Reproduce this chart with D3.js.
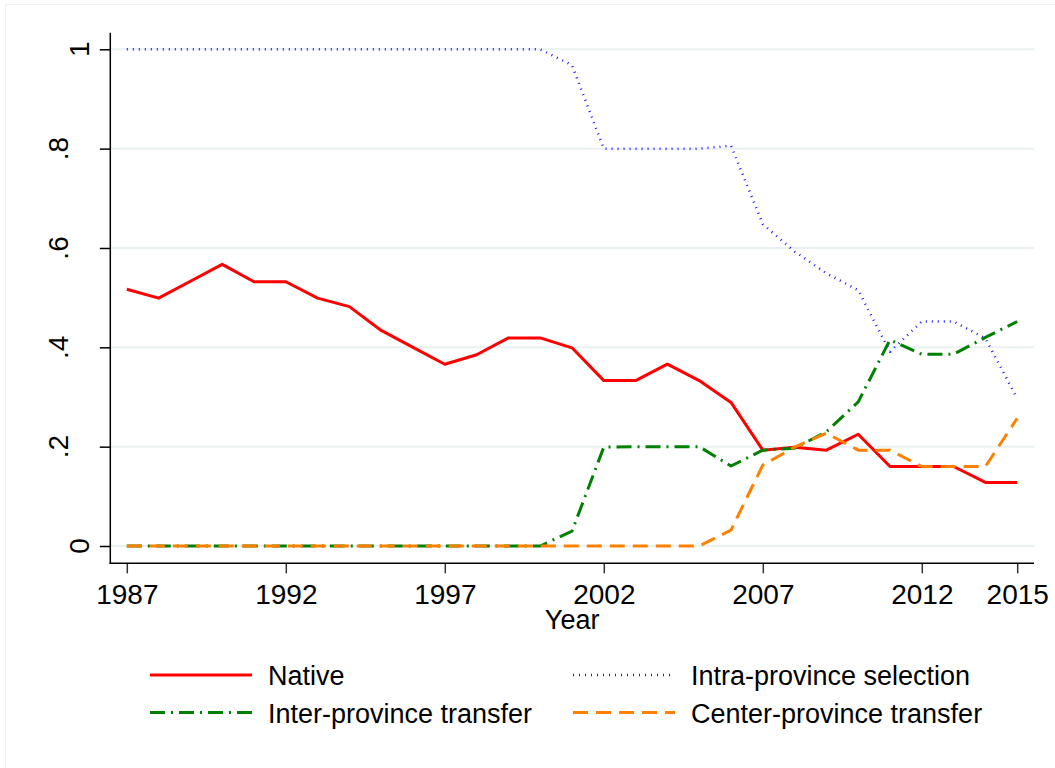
<!DOCTYPE html>
<html>
<head>
<meta charset="utf-8">
<script src="https://cdn.jsdelivr.net/npm/d3@7"></script>
<style>
  body { margin: 0; background: #fff; }
  text { font-family: "Liberation Sans", Arial, sans-serif; fill: #000; }
</style>
</head>
<body>
<div id="chart"></div>
<script>
// data
const years = d3.range(1987, 2016);
const native = [0.517, 0.499, 0.533, 0.567, 0.532, 0.532, 0.499, 0.482, 0.434, 0.400,
                0.366, 0.385, 0.419, 0.419, 0.399, 0.333, 0.333, 0.366, 0.333, 0.289,
                0.193, 0.199, 0.193, 0.225, 0.160, 0.160, 0.160, 0.128, 0.128];
const intra = [1, 1, 1, 1, 1, 1, 1, 1, 1, 1, 1, 1, 1, 1,
               0.968, 0.800, 0.800, 0.800, 0.800, 0.806, 0.648, 0.593, 0.549, 0.515,
               0.391, 0.452, 0.452, 0.418, 0.297];
const inter = [0, 0, 0, 0, 0, 0, 0, 0, 0, 0, 0, 0, 0, 0,
               0.030, 0.199, 0.200, 0.200, 0.200, 0.161, 0.193, 0.197, 0.230, 0.290,
               0.415, 0.386, 0.386, 0.420, 0.452];
const center = [0, 0, 0, 0, 0, 0, 0, 0, 0, 0, 0, 0, 0, 0, 0, 0, 0, 0, 0,
                0.032, 0.163, 0.199, 0.227, 0.193, 0.193, 0.160, 0.160, 0.160, 0.257];
const xTicks = [1987, 1992, 1997, 2002, 2007, 2012, 2015];
const yTicks = [0, 0.2, 0.4, 0.6, 0.8, 1];
const yTickLabels = ["0", ".2", ".4", ".6", ".8", "1"];

const series = [
  {name: "Native", values: native, color: "#ff0000", dash: null, width: 3},
  {name: "Intra-province selection", values: intra, color: "#1a1aff", dash: "1,5", width: 2.5},
  {name: "Inter-province transfer", values: inter, color: "#008000", dash: "15,6,2,6", width: 3},
  {name: "Center-province transfer", values: center, color: "#ff8000", dash: "15,8", width: 3}
];

const W = 1055, H = 768;
const svg = d3.select("#chart").append("svg")
    .attr("width", W)
    .attr("height", H);

// faint outer frame
svg.append("rect")
    .attr("x", 5.5).attr("y", 4.5)
    .attr("width", 1100).attr("height", 800)
    .attr("fill", "none")
    .attr("stroke", "#eef2f3");

const axisLeftX = 110.3, axisRightX = 1034, axisTopY = 32.7, axisBottomY = 563.3;

const x = d3.scaleLinear().domain([1987, 2015]).range([126.8, 1017.2]);
const y = d3.scaleLinear().domain([0, 1]).range([546, 49.3]);

// horizontal grid
svg.append("g")
    .selectAll("line")
    .data(yTicks)
    .enter().append("line")
    .attr("x1", axisLeftX).attr("x2", axisRightX)
    .attr("y1", d => y(d)).attr("y2", d => y(d))
    .attr("stroke", "#eaf1f2")
    .attr("stroke-width", 2);

// x axis
const xAxis = svg.append("g")
    .attr("transform", `translate(0,${axisBottomY})`)
    .call(d3.axisBottom(x).tickValues(xTicks).tickFormat(d3.format("d")).tickSize(10).tickPadding(11));
xAxis.select(".domain").remove();
xAxis.selectAll(".tick line").attr("stroke", "#333").attr("stroke-width", 1.5);
xAxis.selectAll(".tick text")
    .style("font-size", "28px")
    .style("font-family", "'Liberation Sans', Arial, sans-serif")
    .attr("fill", "#000");
svg.append("line")
    .attr("x1", axisLeftX - 0.7).attr("x2", axisRightX)
    .attr("y1", axisBottomY).attr("y2", axisBottomY)
    .attr("stroke", "#000").attr("stroke-width", 1.5);

// y axis
const yAxis = svg.append("g")
    .attr("transform", `translate(${axisLeftX},0)`)
    .call(d3.axisLeft(y).tickValues(yTicks).tickSize(10.5).tickFormat(""));
yAxis.select(".domain").remove();
yAxis.selectAll(".tick line").attr("stroke", "#000").attr("stroke-width", 1.5);
svg.append("line")
    .attr("x1", axisLeftX).attr("x2", axisLeftX)
    .attr("y1", axisTopY).attr("y2", axisBottomY + 0.7)
    .attr("stroke", "#000").attr("stroke-width", 1.5);

// rotated y labels
svg.append("g")
    .selectAll("text")
    .data(yTicks)
    .enter().append("text")
    .attr("transform", (d, i) => {
        const bx = yTickLabels[i].startsWith(".") ? 68 : 89;
        return `translate(${bx},${y(d)}) rotate(-90)`;
    })
    .attr("text-anchor", "middle")
    .style("font-size", "28px")
    .text((d, i) => yTickLabels[i]);

// x title
svg.append("text")
    .attr("x", (axisLeftX + axisRightX) / 2)
    .attr("y", 629)
    .attr("text-anchor", "middle")
    .style("font-size", "27px")
    .text("Year");

// lines
const line = d3.line()
    .x((d, i) => x(years[i]))
    .y(d => y(d));

svg.append("g")
    .selectAll("path")
    .data(series)
    .enter().append("path")
    .attr("d", d => line(d.values))
    .attr("fill", "none")
    .attr("stroke", d => d.color)
    .attr("stroke-width", d => d.width)
    .attr("stroke-dasharray", d => d.dash)
    .attr("stroke-linejoin", "round");

// legend
const legendPos = [[150, 675], [573, 675], [150, 712.5], [573, 712.5]];
const legend = svg.append("g")
    .selectAll("g")
    .data(series)
    .enter().append("g")
    .attr("transform", (d, i) => `translate(${legendPos[i][0]},${legendPos[i][1]})`);
legend.append("line")
    .attr("x1", 0).attr("x2", 102)
    .attr("y1", 0).attr("y2", 0)
    .attr("stroke", d => d.color)
    .attr("stroke-width", d => d.width)
    .attr("stroke-dasharray", d => d.dash);
legend.append("text")
    .attr("x", 118)
    .attr("y", 10)
    .style("font-size", "27px")
    .text(d => d.name);
</script>
</body>
</html>
